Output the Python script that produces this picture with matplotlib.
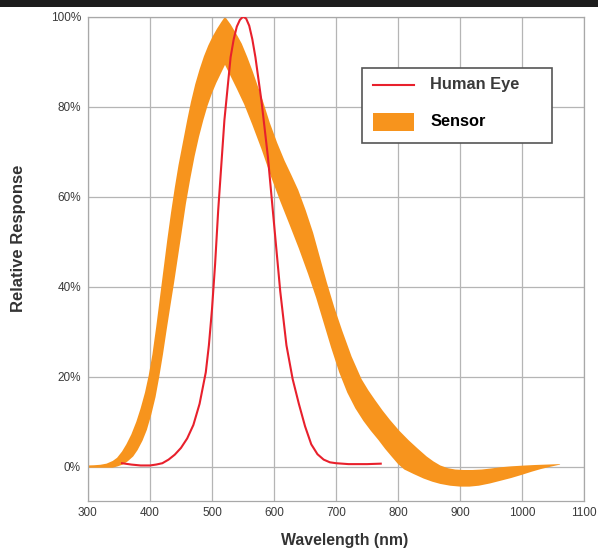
import matplotlib
matplotlib.use("Agg")
import matplotlib.pyplot as plt
from matplotlib.patches import Rectangle
from matplotlib.lines import Line2D

plt.rcParams['font.family'] = ['Liberation Sans', 'DejaVu Sans']

# human eye response (red line)
eye_nm = [355, 370, 385, 400, 410, 420, 430, 440, 450, 460, 470, 480, 490, 495,
          500, 505, 510, 520, 530, 535, 540, 545, 550, 555, 560, 565, 570, 580,
          590, 600, 610, 620, 630, 640, 650, 660, 670, 680, 690, 700, 720, 750, 772]
eye_val = [0.8, 0.5, 0.3, 0.3, 0.5, 0.8, 1.6, 2.7, 4.2, 6.3, 9.3, 14, 21, 27,
           35, 45, 57, 77, 91, 95, 97.8, 99.3, 100, 99.6, 98, 95, 91, 81,
           69, 54, 39, 27, 19.5, 14, 9, 5, 2.8, 1.6, 1.0, 0.8, 0.6, 0.6, 0.7]

# sensor band, outer edge (left side on the rise, right/top side on the fall)
outer_nm = [300, 310, 320, 330, 340, 347, 355, 362, 370, 378, 385, 392, 398, 404,
            410, 416, 422, 428, 434, 440, 446, 453, 460, 466, 473, 480, 487, 494,
            501, 508, 515, 521, 530, 540, 548, 557, 566, 574, 582, 593, 605, 617,
            628, 639, 651, 663, 674, 685, 697, 710, 725, 741, 752, 763, 775, 787,
            802, 817, 832, 846, 857, 868, 880, 892, 905, 920, 935, 948, 965, 982,
            999, 1020, 1040, 1061]
outer_val = [0.3, 0.35, 0.45, 0.7, 1.3, 2.0, 3.4, 5.0, 7.2, 10.0, 13.0, 16.5, 20.3, 25,
             31, 37.5, 44, 50.5, 56.5, 62, 67, 72, 77, 81, 85, 88.3, 91.2, 93.6,
             95.6, 97.3, 98.8, 100, 98.3, 96, 94, 91, 87.7, 84.5, 81.3, 76.5, 72, 68,
             64.8, 61.5, 57, 52, 46.5, 41, 35.5, 30.2, 24.5, 19.5, 17, 14.8, 12.5, 10.4,
             8, 5.9, 4, 2.3, 1.2, 0.3, -0.3, -0.6, -0.7, -0.7, -0.6, -0.4, -0.1, 0.1,
             0.25, 0.4, 0.5, 0.6]

# sensor band, inner edge
inner_nm = [300, 340, 348, 356, 364, 373, 380, 388, 395, 402, 409, 415, 421, 427,
            433, 439, 445, 451, 458, 465, 472, 479, 486, 493, 500, 507, 514, 521,
            530, 540, 552, 565, 580, 595, 610, 625, 640, 655, 668, 680, 692, 705,
            718, 731, 744, 756, 768, 779, 790, 800, 810, 825, 841, 855, 868, 884,
            900, 915, 930, 948, 965, 982, 999, 1015, 1030, 1045, 1061]
inner_val = [-0.2, -0.2, 0.1, 0.5, 1.2, 2.3, 3.7, 5.8, 8.2, 11.5, 15.5, 20, 25, 30.5,
             35.8, 41, 46.5, 52, 58.5, 64, 69, 73.3, 77, 80.3, 83, 85.3, 87.3, 89.3,
             86.8, 84, 80.5, 76, 70.5, 64.5, 59, 53.8, 48.5, 42.8, 37.5, 32, 26.5, 21,
             16.5, 13, 10.2, 8, 6, 4, 2.2, 0.6, -0.6, -1.6, -2.6, -3.3, -3.8, -4.2,
             -4.4, -4.4, -4.2, -3.7, -3.1, -2.5, -1.8, -1.1, -0.5, 0.0, 0.5]

x_ticks = [300, 400, 500, 600, 700, 800, 900, 1000, 1100]
y_ticks = [0, 20, 40, 60, 80, 100]
y_labels = ['0%', '20%', '40%', '60%', '80%', '100%']

fig = plt.figure(figsize=(5.98, 5.51), dpi=100)
ax = fig.add_axes([0.147, 0.0907, 0.830, 0.879])

# dark strip across the top of the picture
fig.patches.append(Rectangle((0, 1 - 7 / 551), 1, 7 / 551, transform=fig.transFigure,
                             facecolor='#1c1c1c', edgecolor='none'))

band_x = outer_nm + inner_nm[::-1]
band_y = outer_val + inner_val[::-1]
ax.fill(band_x, band_y, color='#f7941d', lw=0, zorder=2)
ax.plot(eye_nm, eye_val, color='#e8202c', lw=1.5, zorder=3)

ax.set_xlim(300, 1100)
ax.set_ylim(-7.6, 100)
ax.set_xticks(x_ticks)
ax.set_yticks(y_ticks)
ax.set_yticklabels(y_labels)
ax.tick_params(length=0, labelsize=8.5, labelcolor='#3a3a3a')
ax.tick_params(axis='x', pad=4)
ax.tick_params(axis='y', pad=5)
ax.grid(True, color='#b5b5b5', lw=0.9)
ax.set_axisbelow(True)
for s in ax.spines.values():
    s.set_color('#a8a8a8')
    s.set_linewidth(0.9)

ax.set_xlabel('Wavelength (nm)', fontsize=11.4, fontweight='bold', color='#333333')
ax.xaxis.set_label_coords(0.518, -0.066)
ax.set_ylabel('Relative Response', fontsize=12, fontweight='bold', color='#333333')
ax.yaxis.set_label_coords(-0.125, 0.543)

# legend box drawn by hand
ax.add_patch(Rectangle((0.552, 0.739), 0.383, 0.155, transform=ax.transAxes,
                       facecolor='white', edgecolor='#555555', lw=1.2, zorder=5))
ax.add_line(Line2D([0.575, 0.657], [0.859, 0.859], transform=ax.transAxes,
                   color='#e8202c', lw=1.5, zorder=6))
ax.add_patch(Rectangle((0.575, 0.764), 0.082, 0.037, transform=ax.transAxes,
                       facecolor='#f7941d', edgecolor='none', zorder=6))
ax.text(0.690, 0.859, 'Human Eye', transform=ax.transAxes, fontsize=11.8,
        fontweight='bold', color='#3a3a3a', va='center', zorder=7)
ax.text(0.690, 0.783, 'Sensor', transform=ax.transAxes, fontsize=11.8,
        fontweight='bold', color='black', va='center', zorder=7)

plt.savefig('out.png', dpi=100)
